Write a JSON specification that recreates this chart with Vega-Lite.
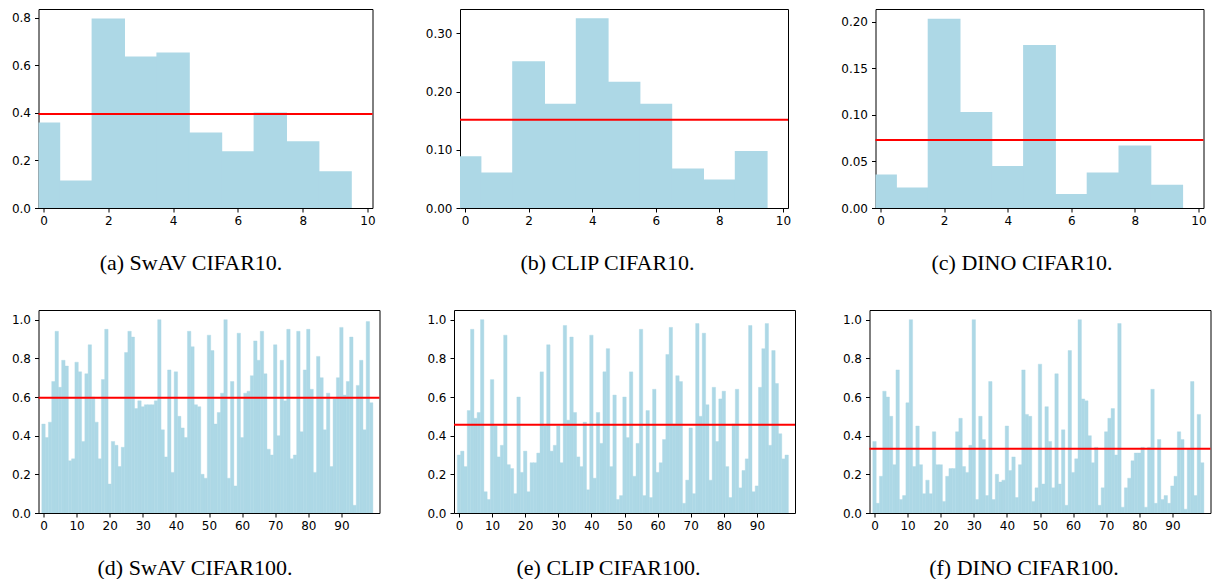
{
"$schema": "https://vega.github.io/schema/vega-lite/v6.json",
"padding": {"left": 10.5, "top": 8, "right": 0, "bottom": 0},
"spacing": 35,
"config": {
 "view": {"stroke": "#000", "strokeWidth": 1},
 "axis": {"grid": false, "domain": false, "tickColor": "#000", "tickSize": 4, "tickWidth": 1, "labelFont": "DejaVu Sans", "labelFontSize": 12, "labelColor": "#000", "labelPadding": 4, "labelFlush": false, "labelOverlap": false, "titleFont": "Liberation Serif", "titleFontSize": 22, "titleFontWeight": "normal", "titleColor": "#000"},
 "axisX": {"labelPadding": 3}
},
"datasets": {
 "a": [{"i":0,"v":0.359},{"i":1,"v":0.116},{"i":2,"v":0.796},{"i":3,"v":0.636},{"i":4,"v":0.653},{"i":5,"v":0.317},{"i":6,"v":0.238},{"i":7,"v":0.401},{"i":8,"v":0.280},{"i":9,"v":0.154}],
 "b": [{"i":0,"v":0.089},{"i":1,"v":0.061},{"i":2,"v":0.252},{"i":3,"v":0.179},{"i":4,"v":0.326},{"i":5,"v":0.217},{"i":6,"v":0.179},{"i":7,"v":0.068},{"i":8,"v":0.049},{"i":9,"v":0.098}],
 "c": [{"i":0,"v":0.036},{"i":1,"v":0.022},{"i":2,"v":0.203},{"i":3,"v":0.103},{"i":4,"v":0.045},{"i":5,"v":0.175},{"i":6,"v":0.015},{"i":7,"v":0.038},{"i":8,"v":0.067},{"i":9,"v":0.025}],
 "d": [{"i":0,"v":0.46},{"i":1,"v":0.39},{"i":2,"v":0.47},{"i":3,"v":0.68},{"i":4,"v":0.94},{"i":5,"v":0.65},{"i":6,"v":0.79},{"i":7,"v":0.76},{"i":8,"v":0.27},{"i":9,"v":0.28},
  {"i":10,"v":0.78},{"i":11,"v":0.73},{"i":12,"v":0.37},{"i":13,"v":0.72},{"i":14,"v":0.87},{"i":15,"v":0.60},{"i":16,"v":0.47},{"i":17,"v":0.28},{"i":18,"v":0.69},{"i":19,"v":0.95},
  {"i":20,"v":0.15},{"i":21,"v":0.37},{"i":22,"v":0.35},{"i":23,"v":0.24},{"i":24,"v":0.34},{"i":25,"v":0.83},{"i":26,"v":0.94},{"i":27,"v":0.91},{"i":28,"v":0.54},{"i":29,"v":0.58},
  {"i":30,"v":0.55},{"i":31,"v":0.56},{"i":32,"v":0.56},{"i":33,"v":0.56},{"i":34,"v":0.58},{"i":35,"v":1.0},{"i":36,"v":0.43},{"i":37,"v":0.29},{"i":38,"v":0.74},{"i":39,"v":0.21},
  {"i":40,"v":0.73},{"i":41,"v":0.50},{"i":42,"v":0.44},{"i":43,"v":0.39},{"i":44,"v":0.94},{"i":45,"v":0.86},{"i":46,"v":0.56},{"i":47,"v":0.55},{"i":48,"v":0.20},{"i":49,"v":0.18},
  {"i":50,"v":0.92},{"i":51,"v":0.84},{"i":52,"v":0.46},{"i":53,"v":0.52},{"i":54,"v":0.62},{"i":55,"v":1.0},{"i":56,"v":0.18},{"i":57,"v":0.68},{"i":58,"v":0.14},{"i":59,"v":0.93},
  {"i":60,"v":0.39},{"i":61,"v":0.62},{"i":62,"v":0.63},{"i":63,"v":0.71},{"i":64,"v":0.89},{"i":65,"v":0.79},{"i":66,"v":0.94},{"i":67,"v":0.72},{"i":68,"v":0.33},{"i":69,"v":0.30},
  {"i":70,"v":0.87},{"i":71,"v":0.40},{"i":72,"v":0.79},{"i":73,"v":0.58},{"i":74,"v":0.95},{"i":75,"v":0.28},{"i":76,"v":0.30},{"i":77,"v":0.94},{"i":78,"v":0.42},{"i":79,"v":0.74},
  {"i":80,"v":0.95},{"i":81,"v":0.64},{"i":82,"v":0.21},{"i":83,"v":0.81},{"i":84,"v":0.70},{"i":85,"v":0.43},{"i":86,"v":0.62},{"i":87,"v":0.24},{"i":88,"v":0.59},{"i":89,"v":0.70},
  {"i":90,"v":0.96},{"i":91,"v":0.61},{"i":92,"v":0.68},{"i":93,"v":0.91},{"i":94,"v":0.04},{"i":95,"v":0.66},{"i":96,"v":0.79},{"i":97,"v":0.43},{"i":98,"v":0.99},{"i":99,"v":0.57}],
 "e": [{"i":0,"v":0.30},{"i":1,"v":0.32},{"i":2,"v":0.24},{"i":3,"v":0.53},{"i":4,"v":0.95},{"i":5,"v":0.49},{"i":6,"v":0.52},{"i":7,"v":1.0},{"i":8,"v":0.11},{"i":9,"v":0.07},
  {"i":10,"v":0.69},{"i":11,"v":0.45},{"i":12,"v":0.29},{"i":13,"v":0.35},{"i":14,"v":0.92},{"i":15,"v":0.25},{"i":16,"v":0.23},{"i":17,"v":0.10},{"i":18,"v":0.60},{"i":19,"v":0.21},
  {"i":20,"v":0.32},{"i":21,"v":0.11},{"i":22,"v":0.26},{"i":23,"v":0.26},{"i":24,"v":0.31},{"i":25,"v":0.73},{"i":26,"v":0.45},{"i":27,"v":0.87},{"i":28,"v":0.32},{"i":29,"v":0.35},
  {"i":30,"v":0.45},{"i":31,"v":0.26},{"i":32,"v":0.97},{"i":33,"v":0.48},{"i":34,"v":0.91},{"i":35,"v":0.52},{"i":36,"v":0.29},{"i":37,"v":0.24},{"i":38,"v":0.47},{"i":39,"v":0.12},
  {"i":40,"v":0.92},{"i":41,"v":0.18},{"i":42,"v":0.52},{"i":43,"v":0.36},{"i":44,"v":0.73},{"i":45,"v":0.85},{"i":46,"v":0.24},{"i":47,"v":0.61},{"i":48,"v":0.07},{"i":49,"v":0.09},
  {"i":50,"v":0.60},{"i":51,"v":0.39},{"i":52,"v":0.73},{"i":53,"v":0.19},{"i":54,"v":0.36},{"i":55,"v":0.95},{"i":56,"v":0.09},{"i":57,"v":0.53},{"i":58,"v":0.08},{"i":59,"v":0.64},
  {"i":60,"v":0.21},{"i":61,"v":0.26},{"i":62,"v":0.38},{"i":63,"v":0.82},{"i":64,"v":0.96},{"i":65,"v":0.46},{"i":66,"v":0.71},{"i":67,"v":0.68},{"i":68,"v":0.05},{"i":69,"v":0.17},
  {"i":70,"v":0.44},{"i":71,"v":0.10},{"i":72,"v":0.98},{"i":73,"v":0.50},{"i":74,"v":0.93},{"i":75,"v":0.56},{"i":76,"v":0.17},{"i":77,"v":0.65},{"i":78,"v":0.37},{"i":79,"v":0.59},
  {"i":80,"v":0.63},{"i":81,"v":0.24},{"i":82,"v":0.08},{"i":83,"v":0.46},{"i":84,"v":0.64},{"i":85,"v":0.13},{"i":86,"v":0.22},{"i":87,"v":0.28},{"i":88,"v":0.97},{"i":89,"v":0.11},
  {"i":90,"v":0.14},{"i":91,"v":0.65},{"i":92,"v":0.85},{"i":93,"v":0.98},{"i":94,"v":0.35},{"i":95,"v":0.84},{"i":96,"v":0.67},{"i":97,"v":0.41},{"i":98,"v":0.28},{"i":99,"v":0.30}],
 "f": [{"i":0,"v":0.37},{"i":1,"v":0.05},{"i":2,"v":0.19},{"i":3,"v":0.63},{"i":4,"v":0.60},{"i":5,"v":0.50},{"i":6,"v":0.25},{"i":7,"v":0.74},{"i":8,"v":0.07},{"i":9,"v":0.09},
  {"i":10,"v":0.57},{"i":11,"v":1.0},{"i":12,"v":0.24},{"i":13,"v":0.45},{"i":14,"v":0.25},{"i":15,"v":0.10},{"i":16,"v":0.17},{"i":17,"v":0.10},{"i":18,"v":0.42},{"i":19,"v":0.25},
  {"i":20,"v":0.25},{"i":21,"v":0.06},{"i":22,"v":0.19},{"i":23,"v":0.23},{"i":24,"v":0.23},{"i":25,"v":0.42},{"i":26,"v":0.49},{"i":27,"v":0.24},{"i":28,"v":0.21},{"i":29,"v":0.35},
  {"i":30,"v":1.0},{"i":31,"v":0.07},{"i":32,"v":0.50},{"i":33,"v":0.38},{"i":34,"v":0.09},{"i":35,"v":0.68},{"i":36,"v":0.07},{"i":37,"v":0.20},{"i":38,"v":0.16},{"i":39,"v":0.17},
  {"i":40,"v":0.45},{"i":41,"v":0.22},{"i":42,"v":0.29},{"i":43,"v":0.08},{"i":44,"v":0.25},{"i":45,"v":0.74},{"i":46,"v":0.51},{"i":47,"v":0.50},{"i":48,"v":0.06},{"i":49,"v":0.13},
  {"i":50,"v":0.77},{"i":51,"v":0.15},{"i":52,"v":0.55},{"i":53,"v":0.37},{"i":54,"v":0.13},{"i":55,"v":0.72},{"i":56,"v":0.15},{"i":57,"v":0.43},{"i":58,"v":0.04},{"i":59,"v":0.84},
  {"i":60,"v":0.21},{"i":61,"v":0.28},{"i":62,"v":1.0},{"i":63,"v":0.59},{"i":64,"v":0.58},{"i":65,"v":0.40},{"i":66,"v":0.26},{"i":67,"v":0.34},{"i":68,"v":0.04},{"i":69,"v":0.13},
  {"i":70,"v":0.42},{"i":71,"v":0.49},{"i":72,"v":0.54},{"i":73,"v":0.30},{"i":74,"v":0.98},{"i":75,"v":0.03},{"i":76,"v":0.13},{"i":77,"v":0.18},{"i":78,"v":0.27},{"i":79,"v":0.31},
  {"i":80,"v":0.31},{"i":81,"v":0.34},{"i":82,"v":0.03},{"i":83,"v":0.34},{"i":84,"v":0.64},{"i":85,"v":0.05},{"i":86,"v":0.38},{"i":87,"v":0.07},{"i":88,"v":0.09},{"i":89,"v":0.05},
  {"i":90,"v":0.14},{"i":91,"v":0.19},{"i":92,"v":0.42},{"i":93,"v":0.38},{"i":94,"v":0.02},{"i":95,"v":0.33},{"i":96,"v":0.68},{"i":97,"v":0.09},{"i":98,"v":0.51},{"i":99,"v":0.26}]
},
"vconcat": [
 {"hconcat": [
  {"width": 334, "height": 199, "data": {"name": "a"},
   "layer": [
    {"mark": {"type": "bar", "orient": "vertical", "color": "#ADD8E6", "width": 33.4, "clip": true},
     "encoding": {
      "x": {"field": "i", "type": "quantitative", "scale": {"domain": [0, 10], "nice": false, "zero": false}, "axis": {"values": [0,2,4,6,8,10], "title": "(a) SwAV CIFAR10.", "titleX": 152, "titleY": 61, "titleBaseline": "alphabetic"}},
      "y": {"field": "v", "type": "quantitative", "stack": null, "scale": {"domain": [0, 0.836], "nice": false}, "axis": {"values": [0,0.2,0.4,0.6,0.8], "format": ".1f", "title": null}}}},
    {"mark": {"type": "rule", "color": "#FF0000", "strokeWidth": 2},
     "encoding": {"y": {"aggregate": "mean", "field": "v", "type": "quantitative"}}}
   ]},
  {"width": 328, "height": 199, "data": {"name": "b"},
   "layer": [
    {"mark": {"type": "bar", "orient": "vertical", "color": "#ADD8E6", "width": 32.8, "clip": true},
     "encoding": {
      "x": {"field": "i", "type": "quantitative", "scale": {"domain": [0, 10], "nice": false, "zero": false}, "axis": {"values": [0,2,4,6,8,10], "title": "(b) CLIP CIFAR10.", "titleX": 147, "titleY": 61, "titleBaseline": "alphabetic"}},
      "y": {"field": "v", "type": "quantitative", "stack": null, "scale": {"domain": [0, 0.342], "nice": false}, "axis": {"values": [0,0.05,0.1,0.15,0.2,0.25,0.3], "format": ".2f", "title": null}}}},
    {"mark": {"type": "rule", "color": "#FF0000", "strokeWidth": 2},
     "encoding": {"y": {"aggregate": "mean", "field": "v", "type": "quantitative"}}}
   ]},
  {"width": 328, "height": 199, "data": {"name": "c"},
   "layer": [
    {"mark": {"type": "bar", "orient": "vertical", "color": "#ADD8E6", "width": 32.8, "clip": true},
     "encoding": {
      "x": {"field": "i", "type": "quantitative", "scale": {"domain": [0, 10], "nice": false, "zero": false}, "axis": {"values": [0,2,4,6,8,10], "title": "(c) DINO CIFAR10.", "titleX": 146, "titleY": 61, "titleBaseline": "alphabetic"}},
      "y": {"field": "v", "type": "quantitative", "stack": null, "scale": {"domain": [0, 0.2135], "nice": false}, "axis": {"values": [0,0.05,0.1,0.15,0.2], "format": ".2f", "title": null}}}},
    {"mark": {"type": "rule", "color": "#FF0000", "strokeWidth": 2},
     "encoding": {"y": {"aggregate": "mean", "field": "v", "type": "quantitative"}}}
   ]}
 ], "spacing": 87.5, "bounds": "flush"},
 {"hconcat": [
  {"width": 341, "height": 203, "data": {"name": "d"},
   "layer": [
    {"mark": {"type": "bar", "orient": "vertical", "color": "#ADD8E6", "stroke": "#ADD8E6", "strokeWidth": 0.4, "width": 3.41, "clip": true},
     "encoding": {
      "x": {"field": "i", "type": "quantitative", "scale": {"domain": [0, 100], "nice": false, "zero": false}, "axis": {"values": [0,10,20,30,40,50,60,70,80,90], "title": "(d) SwAV CIFAR100.", "titleX": 156, "titleY": 61, "titleBaseline": "alphabetic"}},
      "y": {"field": "v", "type": "quantitative", "stack": null, "scale": {"domain": [0, 1.05], "nice": false}, "axis": {"values": [0,0.2,0.4,0.6,0.8,1.0], "format": ".1f", "title": null}}}},
    {"mark": {"type": "rule", "color": "#FF0000", "strokeWidth": 2},
     "encoding": {"y": {"aggregate": "mean", "field": "v", "type": "quantitative"}}}
   ]},
  {"width": 341, "height": 203, "data": {"name": "e"},
   "layer": [
    {"mark": {"type": "bar", "orient": "vertical", "color": "#ADD8E6", "stroke": "#ADD8E6", "strokeWidth": 0.4, "width": 3.41, "clip": true},
     "encoding": {
      "x": {"field": "i", "type": "quantitative", "scale": {"domain": [0, 100], "nice": false, "zero": false}, "axis": {"values": [0,10,20,30,40,50,60,70,80,90], "title": "(e) CLIP CIFAR100.", "titleX": 154, "titleY": 61, "titleBaseline": "alphabetic"}},
      "y": {"field": "v", "type": "quantitative", "stack": null, "scale": {"domain": [0, 1.05], "nice": false}, "axis": {"values": [0,0.2,0.4,0.6,0.8,1.0], "format": ".1f", "title": null}}}},
    {"mark": {"type": "rule", "color": "#FF0000", "strokeWidth": 2},
     "encoding": {"y": {"aggregate": "mean", "field": "v", "type": "quantitative"}}}
   ]},
  {"width": 341, "height": 203, "data": {"name": "f"},
   "layer": [
    {"mark": {"type": "bar", "orient": "vertical", "color": "#ADD8E6", "stroke": "#ADD8E6", "strokeWidth": 0.4, "width": 3.41, "clip": true},
     "encoding": {
      "x": {"field": "i", "type": "quantitative", "scale": {"domain": [0, 100], "nice": false, "zero": false}, "axis": {"values": [0,10,20,30,40,50,60,70,80,90], "title": "(f) DINO CIFAR100.", "titleX": 154, "titleY": 61, "titleBaseline": "alphabetic"}},
      "y": {"field": "v", "type": "quantitative", "stack": null, "scale": {"domain": [0, 1.05], "nice": false}, "axis": {"values": [0,0.2,0.4,0.6,0.8,1.0], "format": ".1f", "title": null}}}},
    {"mark": {"type": "rule", "color": "#FF0000", "strokeWidth": 2},
     "encoding": {"y": {"aggregate": "mean", "field": "v", "type": "quantitative"}}}
   ]}
 ], "spacing": 74.5, "bounds": "flush"}
]
}
